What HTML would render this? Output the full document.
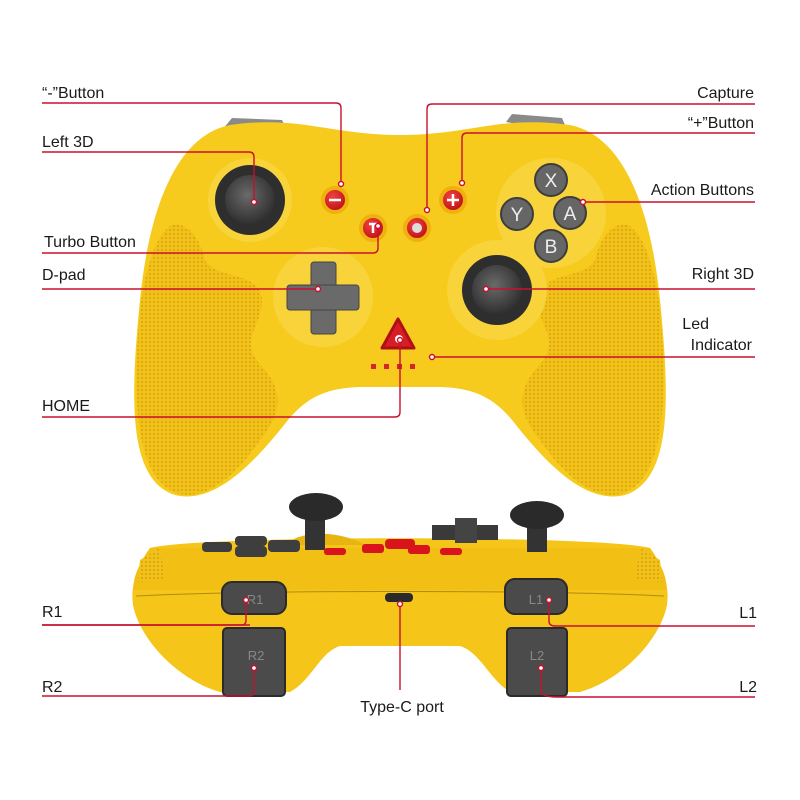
<!DOCTYPE html>
<html><head><meta charset="utf-8"><style>
html,body{margin:0;padding:0;background:#fff;}
svg{display:block}
text{font-family:"Liberation Sans",Arial,sans-serif;font-size:16px;fill:#1a1a1a}
</style></head><body>
<svg width="800" height="800" viewBox="0 0 800 800" xmlns="http://www.w3.org/2000/svg">
<defs>
<pattern id="dots" width="4" height="4" patternUnits="userSpaceOnUse">
<rect width="4" height="4" fill="#f2c21a"/><circle cx="2" cy="2" r="1.1" fill="#d9a60c"/>
</pattern>
<radialGradient id="stick" cx="0.45" cy="0.4" r="0.6"><stop offset="0" stop-color="#6a6a6a"/><stop offset="1" stop-color="#2e2e2e"/></radialGradient>
<radialGradient id="redb" cx="0.4" cy="0.35" r="0.7"><stop offset="0" stop-color="#f24040"/><stop offset="1" stop-color="#b80d12"/></radialGradient>
</defs>

<!-- TOP CONTROLLER -->
<path d="M222,130 L232,118 L282,120 L288,132 Z" fill="#8a8a8a"/>
<path d="M506,122 L512,114 L562,118 L568,132 Z" fill="#8a8a8a"/>
<path d="M230,125 C300,115 330,135 400,135 C470,135 500,115 570,125 C620,135 650,200 660,300 C670,400 672,480 625,495 C585,505 545,462 512,420 C492,396 472,388 440,387 L360,387 C328,388 308,396 288,420 C255,462 215,505 175,495 C128,480 130,400 140,300 C150,200 180,135 230,125 Z" fill="#f6cb1e"/>
<path d="M172,225 C190,222 200,240 205,260 C215,280 260,270 262,300 C262,330 235,340 265,370 C285,395 280,415 260,440 C240,470 210,500 180,494 C135,482 132,400 140,310 C145,270 155,235 172,225 Z" fill="url(#dots)" opacity="0.95"/>
<path d="M628,225 C610,222 600,240 595,260 C585,280 540,270 538,300 C538,330 565,340 535,370 C515,395 520,415 540,440 C560,470 590,500 620,494 C665,482 668,400 660,310 C655,270 645,235 628,225 Z" fill="url(#dots)" opacity="0.95"/>
<circle cx="323" cy="297" r="50" fill="#f8d43a"/>
<circle cx="497" cy="290" r="50" fill="#f8d43a"/>
<circle cx="551" cy="213" r="55" fill="#f8d43a"/>
<circle cx="250" cy="200" r="42" fill="#f8d43a"/>
<circle cx="250" cy="200" r="35" fill="#2e2e2e"/><circle cx="250" cy="200" r="25" fill="url(#stick)"/>
<circle cx="497" cy="290" r="35" fill="#2e2e2e"/><circle cx="497" cy="290" r="25" fill="url(#stick)"/>
<rect x="311" y="262" width="25" height="72" rx="3" fill="#6a6a6a" stroke="#444"/>
<rect x="287" y="285" width="72" height="25" rx="3" fill="#6a6a6a" stroke="#444"/>
<rect x="312" y="286" width="23" height="23" fill="#6a6a6a"/>
<g fill="#666" stroke="#3d3d3d" stroke-width="2">
<circle cx="551" cy="180" r="16"/><circle cx="517" cy="214" r="16"/><circle cx="570" cy="213" r="16"/><circle cx="551" cy="246" r="16"/></g>
<g fill="#eee" font-size="19" text-anchor="middle" style="font-size:19px">
<text x="551" y="187" style="fill:#eee;font-size:19px">X</text><text x="517" y="221" style="fill:#eee;font-size:19px">Y</text><text x="570" y="220" style="fill:#eee;font-size:19px">A</text><text x="551" y="253" style="fill:#eee;font-size:19px">B</text></g>
<g stroke="#f0b010" stroke-width="4" fill="url(#redb)">
<circle cx="335" cy="200" r="12"/><circle cx="373" cy="228" r="12"/><circle cx="417" cy="228" r="12"/><circle cx="453" cy="200" r="12"/></g>
<g stroke="#fff" stroke-width="2.5"><line x1="329" y1="200" x2="341" y2="200"/><line x1="447" y1="200" x2="459" y2="200"/><line x1="453" y1="194" x2="453" y2="206"/><line x1="369" y1="224" x2="377" y2="224"/><line x1="373" y1="224" x2="373" y2="233"/></g>
<circle cx="417" cy="228" r="5" fill="#ddd"/>
<path d="M398,319 L414,348 L382,348 Z" fill="#d81e24" stroke="#b01015" stroke-width="3" stroke-linejoin="round"/>
<circle cx="399" cy="339" r="4" fill="#fff"/>
<g fill="#d7262b"><rect x="371" y="364" width="5" height="5"/><rect x="384" y="364" width="5" height="5"/><rect x="397" y="364" width="5" height="5"/><rect x="410" y="364" width="5" height="5"/></g>

<!-- BOTTOM CONTROLLER -->
<path d="M150,548 C138,565 130,585 133,605 C140,640 178,680 220,692 L290,692 C312,680 320,652 340,646 L460,646 C480,652 490,680 510,692 L580,692 C622,680 660,640 667,605 C670,585 662,565 650,548 C600,535 200,535 150,548 Z" fill="#f6c51a"/>
<path d="M150,548 C138,565 132,580 134,590 L666,590 C668,580 662,565 650,548 Z" fill="#f2bf14"/>
<path d="M140,560 L160,548 L165,580 L138,582 Z" fill="url(#dots)"/>
<path d="M660,560 L640,548 L635,580 L662,582 Z" fill="url(#dots)"/>
<path d="M136,596 C250,590 550,590 664,596" stroke="#b08a10" stroke-width="1" fill="none"/>
<path d="M285,545 C300,530 340,530 365,545 Z" fill="#e8b410"/>
<rect x="305" y="515" width="20" height="35" fill="#333"/>
<ellipse cx="316" cy="507" rx="27" ry="14" fill="#2a2a2a"/>
<rect x="527" y="520" width="20" height="32" fill="#333"/>
<ellipse cx="537" cy="515" rx="27" ry="14" fill="#2a2a2a"/>
<path d="M432,525 L498,525 L498,540 L432,540 Z" fill="#3a3a3a"/>
<rect x="455" y="518" width="22" height="25" fill="#444"/>
<g fill="#3e3e3e"><rect x="202" y="542" width="30" height="10" rx="4"/><rect x="235" y="536" width="32" height="10" rx="4"/><rect x="235" y="546" width="32" height="11" rx="4"/><rect x="268" y="540" width="32" height="12" rx="4"/></g>
<g fill="#d8141c"><rect x="324" y="548" width="22" height="7" rx="3"/><rect x="362" y="544" width="22" height="9" rx="3"/><rect x="385" y="539" width="30" height="10" rx="4"/><rect x="408" y="545" width="22" height="9" rx="3"/><rect x="440" y="548" width="22" height="7" rx="3"/></g>
<rect x="222" y="582" width="64" height="32" rx="10" fill="#4a4a4a" stroke="#2a2a2a" stroke-width="2"/>
<rect x="505" y="579" width="62" height="35" rx="10" fill="#4a4a4a" stroke="#2a2a2a" stroke-width="2"/>
<rect x="223" y="628" width="62" height="68" rx="4" fill="#4b4b4b" stroke="#2a2a2a" stroke-width="2"/>
<rect x="507" y="628" width="60" height="68" rx="4" fill="#4b4b4b" stroke="#2a2a2a" stroke-width="2"/>
<g style="font-size:13px" text-anchor="middle"><text x="255" y="604" style="fill:#888;font-size:13px">R1</text><text x="536" y="604" style="fill:#888;font-size:13px">L1</text><text x="256" y="660" style="fill:#888;font-size:13px">R2</text><text x="537" y="660" style="fill:#888;font-size:13px">L2</text></g>
<rect x="385" y="593" width="28" height="9" rx="4" fill="#2a2a2a"/>

<!-- CALLOUT LINES -->
<g stroke="#c8102e" stroke-width="1.4" fill="none">
<path d="M42,103 H336 Q341,103 341,108 V184"/>
<path d="M42,152 H249 Q254,152 254,157 V202"/>
<path d="M42,253 H373 Q378,253 378,248 V226"/>
<path d="M42,289 H318"/>
<path d="M42,417 H395 Q400,417 400,412 V340"/>
<path d="M755,104 H432 Q427,104 427,109 V210"/>
<path d="M755,133 H467 Q462,133 462,138 V183"/>
<path d="M755,202 H583"/>
<path d="M755,289 H486"/>
<path d="M755,357 H432"/>
<path d="M42,625 H250 Q245,625 245,625 M250,625 Q245,625 245,625" />
<path d="M42,625 H242 Q246,625 246,620 V600"/>
<path d="M42,696 H249 Q254,696 254,691 V668"/>
<path d="M400,602 V690"/>
<path d="M755,626 H555 Q549,626 549,621 V600"/>
<path d="M755,697 H557 Q541,697 541,691 V668"/>
</g>
<g fill="#fff" stroke="#c8102e" stroke-width="1.4">
<circle cx="341" cy="184" r="2.5"/><circle cx="254" cy="202" r="2.5"/><circle cx="378" cy="226" r="2.5"/><circle cx="318" cy="289" r="2.5"/><circle cx="400" cy="340" r="2.5"/>
<circle cx="427" cy="210" r="2.5"/><circle cx="462" cy="183" r="2.5"/><circle cx="583" cy="202" r="2.5"/><circle cx="486" cy="289" r="2.5"/><circle cx="432" cy="357" r="2.5"/>
<circle cx="246" cy="600" r="2.5"/><circle cx="254" cy="668" r="2.5"/><circle cx="400" cy="604" r="2.5"/><circle cx="549" cy="600" r="2.5"/><circle cx="541" cy="668" r="2.5"/>
</g>

<!-- LABELS -->
<text x="42" y="98">“-”Button</text>
<text x="42" y="147">Left 3D</text>
<text x="44" y="247">Turbo Button</text>
<text x="42" y="280">D-pad</text>
<text x="42" y="411">HOME</text>
<text x="754" y="98" text-anchor="end">Capture</text>
<text x="754" y="128" text-anchor="end">“+”Button</text>
<text x="754" y="195" text-anchor="end">Action Buttons</text>
<text x="754" y="279" text-anchor="end">Right 3D</text>
<text x="709" y="329" text-anchor="end">Led</text>
<text x="752" y="350" text-anchor="end">Indicator</text>
<text x="42" y="617">R1</text>
<text x="42" y="692">R2</text>
<text x="757" y="618" text-anchor="end">L1</text>
<text x="757" y="692" text-anchor="end">L2</text>
<text x="402" y="712" text-anchor="middle">Type-C port</text>
</svg>
</body></html>
